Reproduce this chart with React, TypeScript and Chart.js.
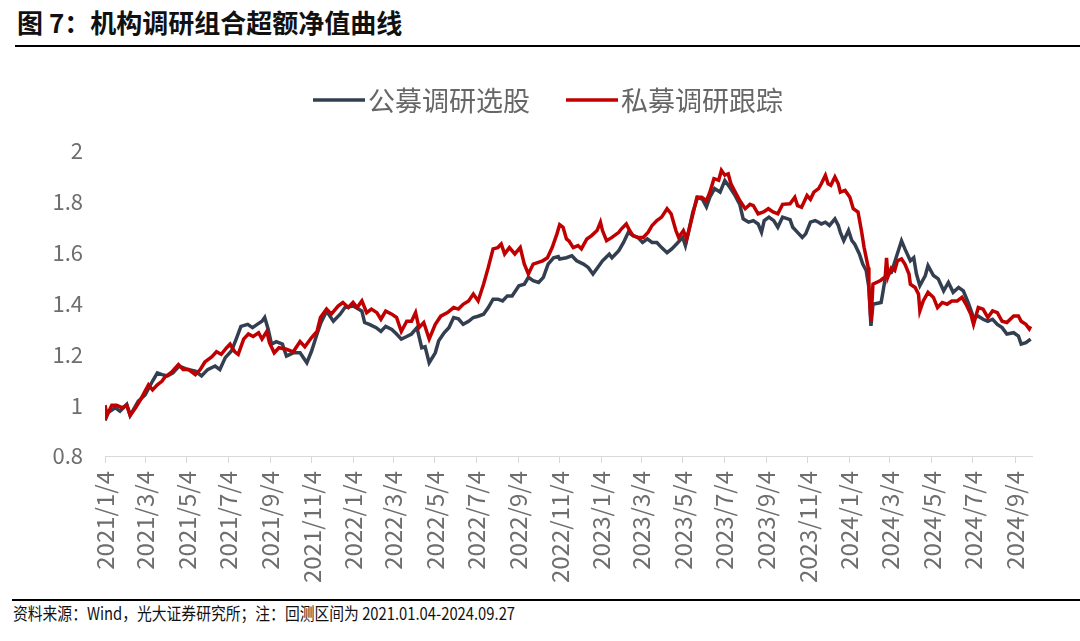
import React, { useEffect, useRef } from "react";
import { Chart, registerables } from "chart.js";

Chart.register(...registerables);

const TITLE = "图 7：机构调研组合超额净值曲线";
const SOURCE = "资料来源：Wind，光大证券研究所；注：回测区间为 2021.01.04-2024.09.27";
const SERIES_NAMES = ["公募调研选股", "私募调研跟踪"];
const SERIES_COLORS = ["#333F50", "#C00000"];
const X_TICK_LABELS = [
  "2021/1/4", "2021/3/4", "2021/5/4", "2021/7/4", "2021/9/4", "2021/11/4",
  "2022/1/4", "2022/3/4", "2022/5/4", "2022/7/4", "2022/9/4", "2022/11/4",
  "2023/1/4", "2023/3/4", "2023/5/4", "2023/7/4", "2023/9/4", "2023/11/4",
  "2024/1/4", "2024/3/4", "2024/5/4", "2024/7/4", "2024/9/4",
];
const Y_TICKS = [0.8, 1, 1.2, 1.4, 1.6, 1.8, 2];
const START_DATE = "2021-01-04";
const AXIS_END_DATE = "2024-09-29";

// 公募调研选股
const publicDates = [
  "2021-01-04", "2021-01-08", "2021-01-19", "2021-01-26", "2021-02-05", "2021-02-10", "2021-02-22",
  "2021-03-04", "2021-03-15", "2021-03-22", "2021-03-29", "2021-04-06", "2021-04-14", "2021-04-23",
  "2021-05-06", "2021-05-17", "2021-05-26", "2021-06-04", "2021-06-15", "2021-06-22", "2021-06-30",
  "2021-07-09", "2021-07-16", "2021-07-23", "2021-08-02", "2021-08-09", "2021-08-16", "2021-08-23",
  "2021-08-27", "2021-09-01", "2021-09-06", "2021-09-13", "2021-09-22", "2021-09-28", "2021-10-08",
  "2021-10-18", "2021-10-28", "2021-11-04", "2021-11-12", "2021-11-17", "2021-11-26", "2021-12-06",
  "2021-12-16", "2021-12-23", "2022-01-04", "2022-01-12", "2022-01-17", "2022-01-21", "2022-01-28",
  "2022-02-07", "2022-02-14", "2022-02-21", "2022-03-02", "2022-03-09", "2022-03-16", "2022-03-24",
  "2022-03-31", "2022-04-08", "2022-04-15", "2022-04-20", "2022-04-26", "2022-05-05", "2022-05-10",
  "2022-05-18", "2022-05-25", "2022-06-01", "2022-06-08", "2022-06-15", "2022-06-23", "2022-06-30",
  "2022-07-07", "2022-07-15", "2022-07-22", "2022-07-29", "2022-08-05", "2022-08-12", "2022-08-19",
  "2022-08-26", "2022-09-05", "2022-09-13", "2022-09-19", "2022-09-26", "2022-10-04", "2022-10-11",
  "2022-10-18", "2022-10-26", "2022-11-02", "2022-11-04", "2022-11-14", "2022-11-22", "2022-11-29",
  "2022-12-09", "2022-12-16", "2022-12-23", "2022-12-30", "2023-01-06", "2023-01-16", "2023-01-20",
  "2023-01-30", "2023-02-06", "2023-02-13", "2023-02-20", "2023-02-27", "2023-03-06", "2023-03-13",
  "2023-03-20", "2023-03-27", "2023-04-03", "2023-04-11", "2023-04-18", "2023-04-25", "2023-05-04",
  "2023-05-08", "2023-05-12", "2023-05-19", "2023-05-26", "2023-06-02", "2023-06-08", "2023-06-13",
  "2023-06-20", "2023-06-28", "2023-07-05", "2023-07-12", "2023-07-19", "2023-07-27", "2023-08-01",
  "2023-08-09", "2023-08-16", "2023-08-23", "2023-08-28", "2023-09-01", "2023-09-08", "2023-09-15",
  "2023-09-21", "2023-09-28", "2023-10-09", "2023-10-13", "2023-10-20", "2023-10-27", "2023-11-01",
  "2023-11-08", "2023-11-15", "2023-11-20", "2023-11-24", "2023-11-30", "2023-12-06", "2023-12-14",
  "2023-12-19", "2023-12-22", "2023-12-27", "2024-01-03", "2024-01-08", "2024-01-12", "2024-01-19",
  "2024-01-24", "2024-01-29", "2024-02-02", "2024-02-05", "2024-02-08", "2024-02-20", "2024-02-23",
  "2024-02-27", "2024-03-06", "2024-03-13", "2024-03-21", "2024-03-26", "2024-04-03", "2024-04-08",
  "2024-04-12", "2024-04-17", "2024-04-25", "2024-04-29", "2024-05-07", "2024-05-14", "2024-05-22",
  "2024-05-29", "2024-06-05", "2024-06-13", "2024-06-20", "2024-06-27", "2024-07-05", "2024-07-12",
  "2024-07-19", "2024-07-26", "2024-08-02", "2024-08-09", "2024-08-16", "2024-08-23", "2024-09-02",
  "2024-09-09", "2024-09-13", "2024-09-20", "2024-09-27",
];
const publicValues = [
  0.94, 0.97, 0.99, 0.976, 1.003, 0.96, 1.016,
  1.04, 1.095, 1.127, 1.12, 1.115, 1.127, 1.154,
  1.14, 1.134, 1.115, 1.14, 1.154, 1.14, 1.187,
  1.213, 1.26, 1.31, 1.318, 1.305, 1.318, 1.33,
  1.345, 1.3, 1.24, 1.25, 1.24, 1.193, 1.206,
  1.206, 1.167, 1.213, 1.28, 1.32, 1.37, 1.33,
  1.358, 1.384, 1.39, 1.378, 1.37, 1.325, 1.318,
  1.305, 1.29, 1.31, 1.298, 1.28, 1.26, 1.27,
  1.28, 1.305, 1.226, 1.23, 1.167, 1.206, 1.253,
  1.285, 1.305, 1.345, 1.34, 1.318, 1.33, 1.345,
  1.35, 1.358, 1.384, 1.417, 1.417, 1.41, 1.43,
  1.43, 1.47, 1.476, 1.503, 1.49, 1.483, 1.503,
  1.555, 1.58, 1.585, 1.575, 1.58, 1.588, 1.568,
  1.555, 1.542, 1.516, 1.542, 1.568, 1.594, 1.58,
  1.608, 1.64, 1.68, 1.667, 1.66, 1.64, 1.654,
  1.64, 1.64, 1.62, 1.6, 1.615, 1.634, 1.66,
  1.628, 1.674, 1.76, 1.818, 1.81, 1.78, 1.818,
  1.852, 1.838, 1.884, 1.858, 1.83, 1.79, 1.733,
  1.72, 1.726, 1.713, 1.68, 1.726, 1.74, 1.726,
  1.7, 1.74, 1.73, 1.7, 1.68, 1.66, 1.674,
  1.72, 1.726, 1.72, 1.713, 1.72, 1.707, 1.733,
  1.707, 1.68, 1.647, 1.687, 1.647, 1.634, 1.595,
  1.555, 1.53, 1.463, 1.312, 1.397, 1.404, 1.45,
  1.516, 1.522, 1.58, 1.647, 1.615, 1.568, 1.58,
  1.516, 1.47, 1.51, 1.549, 1.51, 1.497, 1.45,
  1.483, 1.444, 1.463, 1.45, 1.404, 1.345, 1.35,
  1.338, 1.33, 1.338, 1.318, 1.305, 1.28, 1.285,
  1.272, 1.24, 1.246, 1.26,
];

// 私募调研跟踪
const privateDates = [
  "2021-01-04", "2021-01-07", "2021-01-14", "2021-01-21", "2021-01-29", "2021-02-05", "2021-02-10",
  "2021-02-18", "2021-02-25", "2021-03-04", "2021-03-09", "2021-03-15", "2021-03-22", "2021-03-29",
  "2021-04-02", "2021-04-12", "2021-04-22", "2021-04-29", "2021-05-07", "2021-05-17", "2021-05-24",
  "2021-05-31", "2021-06-10", "2021-06-17", "2021-06-24", "2021-07-02", "2021-07-07", "2021-07-14",
  "2021-07-19", "2021-07-27", "2021-08-03", "2021-08-10", "2021-08-18", "2021-08-23", "2021-08-30",
  "2021-09-03", "2021-09-10", "2021-09-17", "2021-09-28", "2021-10-08", "2021-10-18", "2021-10-25",
  "2021-11-04", "2021-11-12", "2021-11-17", "2021-11-26", "2021-12-03", "2021-12-13", "2021-12-20",
  "2021-12-28", "2022-01-04", "2022-01-10", "2022-01-17", "2022-01-24", "2022-01-31", "2022-02-08",
  "2022-02-14", "2022-02-21", "2022-03-02", "2022-03-09", "2022-03-16", "2022-03-24", "2022-03-31",
  "2022-04-06", "2022-04-11", "2022-04-18", "2022-04-26", "2022-05-05", "2022-05-13", "2022-05-23",
  "2022-06-01", "2022-06-08", "2022-06-15", "2022-06-23", "2022-06-30", "2022-07-07", "2022-07-15",
  "2022-07-22", "2022-07-29", "2022-08-05", "2022-08-10", "2022-08-15", "2022-08-22", "2022-08-30",
  "2022-09-07", "2022-09-13", "2022-09-19", "2022-09-26", "2022-10-10", "2022-10-17", "2022-10-24",
  "2022-10-31", "2022-11-04", "2022-11-09", "2022-11-14", "2022-11-18", "2022-11-24", "2022-12-01",
  "2022-12-06", "2022-12-14", "2022-12-21", "2022-12-29", "2023-01-03", "2023-01-06", "2023-01-12",
  "2023-01-20", "2023-01-30", "2023-02-03", "2023-02-10", "2023-02-15", "2023-02-20", "2023-02-27",
  "2023-03-07", "2023-03-14", "2023-03-20", "2023-03-27", "2023-04-03", "2023-04-11", "2023-04-17",
  "2023-04-24", "2023-04-28", "2023-05-05", "2023-05-10", "2023-05-18", "2023-05-25", "2023-06-01",
  "2023-06-08", "2023-06-13", "2023-06-19", "2023-06-26", "2023-06-30", "2023-07-05", "2023-07-10",
  "2023-07-14", "2023-07-19", "2023-07-27", "2023-08-04", "2023-08-11", "2023-08-16", "2023-08-23",
  "2023-08-31", "2023-09-07", "2023-09-14", "2023-09-21", "2023-09-28", "2023-10-09", "2023-10-16",
  "2023-10-20", "2023-10-26", "2023-11-03", "2023-11-08", "2023-11-13", "2023-11-20", "2023-11-24",
  "2023-11-30", "2023-12-04", "2023-12-08", "2023-12-14", "2023-12-19", "2023-12-22", "2023-12-29",
  "2024-01-05", "2024-01-10", "2024-01-17", "2024-01-22", "2024-01-26", "2024-02-01", "2024-02-02",
  "2024-02-05", "2024-02-08", "2024-02-19", "2024-02-21", "2024-02-26", "2024-02-28", "2024-03-01",
  "2024-03-06", "2024-03-11", "2024-03-15", "2024-03-21", "2024-03-26", "2024-04-01", "2024-04-03",
  "2024-04-10", "2024-04-15", "2024-04-17", "2024-04-22", "2024-04-29", "2024-05-07", "2024-05-13",
  "2024-05-20", "2024-05-27", "2024-06-03", "2024-06-11", "2024-06-18", "2024-06-24", "2024-07-01",
  "2024-07-05", "2024-07-12", "2024-07-19", "2024-07-26", "2024-08-02", "2024-08-09", "2024-08-16",
  "2024-08-23", "2024-09-02", "2024-09-09", "2024-09-13", "2024-09-20", "2024-09-25", "2024-09-27",
];
const privateValues = [
  1.0, 0.96, 1.0, 1.0, 0.99, 1.0, 0.96,
  0.99, 1.02, 1.055, 1.08, 1.06, 1.08, 1.095,
  1.11, 1.13, 1.16, 1.14, 1.14, 1.12, 1.14,
  1.17, 1.19, 1.21, 1.2, 1.226, 1.24, 1.21,
  1.2, 1.26, 1.28, 1.27, 1.285, 1.26, 1.29,
  1.246, 1.206, 1.226, 1.22, 1.21, 1.25, 1.23,
  1.266, 1.29, 1.345, 1.378, 1.358, 1.39, 1.404,
  1.384, 1.404, 1.384, 1.41, 1.364, 1.378, 1.364,
  1.338, 1.37, 1.358, 1.345, 1.29, 1.33, 1.33,
  1.364, 1.305, 1.325, 1.26, 1.318, 1.35, 1.364,
  1.384, 1.378, 1.397, 1.41, 1.437, 1.41, 1.476,
  1.542, 1.615, 1.62, 1.634, 1.595, 1.62, 1.595,
  1.62, 1.555, 1.516, 1.555, 1.568, 1.58, 1.62,
  1.674, 1.71, 1.7, 1.654, 1.645, 1.62, 1.628,
  1.615, 1.654, 1.667, 1.687, 1.72, 1.687, 1.647,
  1.66, 1.68, 1.694, 1.713, 1.687, 1.667, 1.66,
  1.66, 1.68, 1.707, 1.726, 1.74, 1.773, 1.753,
  1.687, 1.66, 1.687, 1.654, 1.74, 1.818, 1.818,
  1.805, 1.838, 1.891, 1.885, 1.924, 1.905, 1.91,
  1.871, 1.845, 1.805, 1.773, 1.79, 1.785, 1.753,
  1.76, 1.773, 1.76, 1.753, 1.79, 1.792, 1.818,
  1.785, 1.779, 1.825, 1.81, 1.838, 1.852, 1.871,
  1.904, 1.871, 1.865, 1.898, 1.871, 1.838, 1.845,
  1.818, 1.773, 1.76, 1.687, 1.62, 1.542, 1.463,
  1.33, 1.476, 1.49, 1.495, 1.505, 1.58, 1.505,
  1.54, 1.53, 1.568, 1.575, 1.555, 1.516, 1.476,
  1.463, 1.437, 1.371, 1.41, 1.444, 1.424, 1.384,
  1.404, 1.397, 1.41, 1.41, 1.424, 1.397, 1.358,
  1.318, 1.384, 1.378, 1.345, 1.371, 1.364, 1.33,
  1.325, 1.351, 1.351, 1.33, 1.318, 1.3, 1.31,
];

const FONT = "'Noto Sans CJK SC', 'Noto Sans', sans-serif";
const DAY_MS = 86400000;

function toDay(s: string): number {
  const [y, m, d] = s.replace(/\//g, "-").split("-").map(Number);
  const [y0, m0, d0] = START_DATE.split("-").map(Number);
  return Math.round((Date.UTC(y, m - 1, d) - Date.UTC(y0, m0 - 1, d0)) / DAY_MS);
}

const legendPlugin = {
  id: "lineLegend",
  afterDraw(chart: any) {
    const ctx = chart.ctx as CanvasRenderingContext2D;
    ctx.save();
    ctx.font = `27px ${FONT}`;
    ctx.textBaseline = "middle";
    ctx.textAlign = "left";
    const items = chart.data.datasets.map((ds: any) => ({ text: ds.label, color: ds.borderColor }));
    const lineW = 52;
    const gapText = 3;
    const gapItem = 36;
    const widths = items.map((it: any) => lineW + gapText + ctx.measureText(it.text).width);
    const total = widths.reduce((a: number, b: number) => a + b, 0) + gapItem * (items.length - 1);
    let x = 548 - total / 2;
    const y = 45;
    items.forEach((it: any, i: number) => {
      ctx.strokeStyle = it.color;
      ctx.lineWidth = 3.5;
      ctx.beginPath();
      ctx.moveTo(x, y);
      ctx.lineTo(x + lineW, y);
      ctx.stroke();
      ctx.fillStyle = "#666666";
      ctx.fillText(it.text, x + lineW + gapText, y + 1);
      x += widths[i] + gapItem;
    });
    ctx.restore();
  },
};

export default function App() {
  const canvasRef = useRef<HTMLCanvasElement | null>(null);

  useEffect(() => {
    const canvas = canvasRef.current;
    if (!canvas) return;
    const tickDays = X_TICK_LABELS.map(toDay);
    const labelByDay: Record<number, string> = {};
    X_TICK_LABELS.forEach((l, i) => (labelByDay[tickDays[i]] = l));

    const chart = new Chart(canvas, {
      type: "line",
      data: {
        datasets: [
          {
            label: SERIES_NAMES[0],
            data: publicDates.map((d, i) => ({ x: toDay(d), y: publicValues[i] })),
            borderColor: SERIES_COLORS[0],
            backgroundColor: SERIES_COLORS[0],
            borderWidth: 3.5,
            pointRadius: 0,
            tension: 0,
            order: 1,
          },
          {
            label: SERIES_NAMES[1],
            data: privateDates.map((d, i) => ({ x: toDay(d), y: privateValues[i] })),
            borderColor: SERIES_COLORS[1],
            backgroundColor: SERIES_COLORS[1],
            borderWidth: 3.5,
            pointRadius: 0,
            tension: 0,
            order: 0,
          },
        ],
      },
      options: {
        responsive: false,
        animation: false,
        layout: { padding: { left: 0, right: 48, top: 96, bottom: 0 } },
        plugins: {
          legend: { display: false },
          tooltip: { enabled: false },
          title: { display: false },
        },
        scales: {
          x: {
            type: "linear",
            min: 0,
            max: toDay(AXIS_END_DATE),
            afterBuildTicks: (s: any) => {
              s.ticks = tickDays.map((v) => ({ value: v }));
            },
            afterFit: (s: any) => {
              s.height = 139;
            },
            ticks: {
              autoSkip: false,
              minRotation: 90,
              maxRotation: 90,
              padding: 8,
              color: "#6E6E6E",
              font: { family: FONT, size: 24 },
              callback: (v: any) => labelByDay[Math.round(Number(v))] ?? "",
            },
            grid: {
              display: true,
              drawOnChartArea: false,
              drawTicks: true,
              tickLength: 7,
              color: "#D9D9D9",
              lineWidth: 1,
            },
            border: { display: true, color: "#D9D9D9", width: 1 },
          },
          y: {
            type: "linear",
            min: 0.8,
            max: 2,
            afterBuildTicks: (s: any) => {
              s.ticks = Y_TICKS.map((v) => ({ value: v }));
            },
            afterFit: (s: any) => {
              s.width = 105;
            },
            ticks: {
              padding: 22,
              color: "#6E6E6E",
              font: { family: FONT, size: 22 },
              callback: (v: any) => String(Number(Number(v).toFixed(1))),
            },
            grid: { display: false, drawTicks: false },
            border: { display: false },
          },
        },
      },
      plugins: [legendPlugin],
    });
    return () => chart.destroy();
  }, []);

  return (
    <div
      style={{
        position: "absolute",
        left: 0,
        top: 0,
        width: 1080,
        height: 641,
        background: "#fff",
        fontFamily: FONT,
        overflow: "hidden",
      }}
    >
      <div
        style={{
          position: "absolute",
          left: 17,
          top: 6,
          fontSize: 26,
          fontWeight: 700,
          lineHeight: "32px",
          color: "#111",
          whiteSpace: "nowrap",
        }}
      >
        {TITLE}
      </div>
      <div style={{ position: "absolute", left: 15, right: 0, top: 45, height: 2, background: "#000" }} />
      <canvas ref={canvasRef} width={1080} height={540} style={{ position: "absolute", left: 0, top: 55 }} />
      <div style={{ position: "absolute", left: 12, right: 0, top: 599, height: 2, background: "#000" }} />
      <div
        style={{
          position: "absolute",
          left: 13,
          top: 601,
          fontSize: 17,
          lineHeight: "24px",
          color: "#111",
          whiteSpace: "nowrap",
          transform: "scaleX(0.87)",
          transformOrigin: "left center",
        }}
      >
        {SOURCE}
      </div>
    </div>
  );
}
